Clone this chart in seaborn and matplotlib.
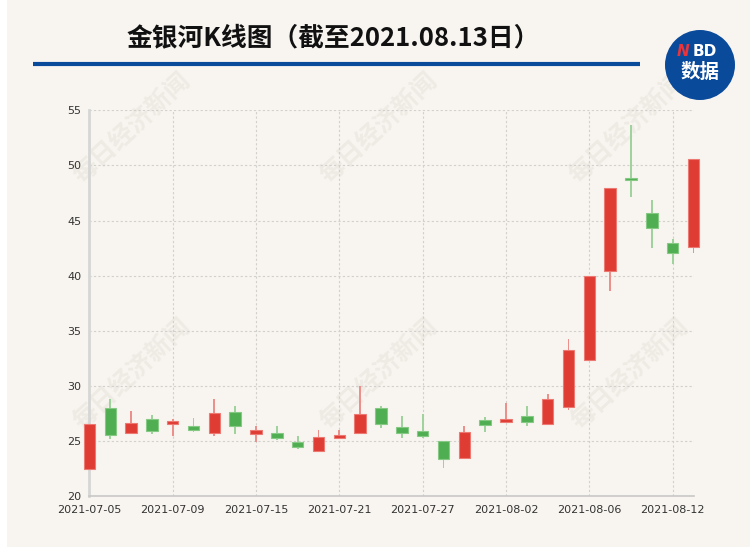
import numpy as np
import pandas as pd
import matplotlib
matplotlib.use("Agg")
import matplotlib.pyplot as plt
from matplotlib.patches import Circle, Rectangle
import seaborn as sns

# ---------------- data ----------------
dates = ["2021-07-05", "2021-07-06", "2021-07-07", "2021-07-08", "2021-07-09",
         "2021-07-12", "2021-07-13", "2021-07-14", "2021-07-15", "2021-07-16",
         "2021-07-19", "2021-07-20", "2021-07-21", "2021-07-22", "2021-07-23",
         "2021-07-26", "2021-07-27", "2021-07-28", "2021-07-29", "2021-07-30",
         "2021-08-02", "2021-08-03", "2021-08-04", "2021-08-05", "2021-08-06",
         "2021-08-09", "2021-08-10", "2021-08-11", "2021-08-12", "2021-08-13"]
open_ = [22.52, 27.97, 25.70, 27.03, 26.52, 26.39, 25.79, 27.61, 25.64, 25.70,
         24.97, 24.15, 25.33, 25.70, 28.04, 26.25, 25.97, 25.00, 23.51, 26.95,
         26.76, 27.31, 26.52, 28.10, 32.33, 40.42, 48.82, 45.70, 43.00, 42.58]
close = [26.55, 25.52, 26.61, 25.94, 26.79, 26.03, 27.55, 26.39, 26.00, 25.27,
         24.45, 25.40, 25.58, 27.43, 26.52, 25.76, 25.43, 23.39, 25.88, 26.46,
         27.00, 26.70, 28.80, 33.30, 39.95, 47.91, 48.64, 44.30, 42.03, 50.55]
high = [26.55, 28.79, 27.73, 27.36, 27.00, 27.06, 28.85, 28.21, 26.42, 26.39,
        25.45, 26.06, 26.06, 30.00, 28.22, 27.28, 27.43, 25.00, 26.40, 27.19,
        28.46, 28.16, 29.32, 34.30, 39.95, 47.91, 53.70, 46.91, 43.33, 50.55]
low = [22.52, 25.21, 25.70, 25.64, 25.48, 25.82, 25.48, 25.61, 24.94, 25.09,
       24.33, 24.15, 25.24, 25.70, 26.16, 25.33, 25.33, 22.60, 23.51, 25.85,
       26.64, 26.37, 26.52, 27.83, 32.33, 38.60, 47.12, 42.55, 41.06, 42.06]
x_tick_labels = ["2021-07-05", "2021-07-09", "2021-07-15", "2021-07-21",
                 "2021-07-27", "2021-08-02", "2021-08-06", "2021-08-12"]
y_ticks = [20, 25, 30, 35, 40, 45, 50, 55]

title = "金银河K线图（截至2021.08.13日）"
watermark = "每日经济新闻"

# ---------------- style ----------------
sns.set_theme(style="white")
plt.rcParams['font.family'] = ['DejaVu Sans', 'Noto Sans CJK SC']

BG = '#f8f5f0'
BLUE = '#0a4a9b'
RED = '#df3c34'
RED_EDGE = '#ec7a73'
RED_WICK = '#ec908b'
GREEN = '#4fae51'
GREEN_EDGE = '#86c985'
GREEN_WICK = '#a0d29e'

df = pd.DataFrame({'date': dates, 'open': open_, 'close': close,
                   'high': high, 'low': low})
df['up'] = df['close'] >= df['open']
df['body_lo'] = df[['open', 'close']].min(axis=1)
df['body_h'] = (df['close'] - df['open']).abs()
df['wick_h'] = df['high'] - df['low']

fig = plt.figure(figsize=(7.5, 5.5), dpi=100, facecolor='white')

# background / decoration layer in pixel coordinates
bg = fig.add_axes([0, 0, 1, 1], zorder=0)
bg.set_xlim(0, 750)
bg.set_ylim(550, 0)
bg.axis('off')
bg.add_patch(Rectangle((7, 0), 743, 547, facecolor=BG, edgecolor='none', zorder=0))
for cx, cy in [(132, 128), (379, 128), (628, 128), (132, 374), (379, 374), (630, 374)]:
    bg.text(cx, cy, watermark, rotation=43, ha='center', va='center',
            fontsize=18, fontweight='bold', color='#eeeae4',
            family=['Noto Sans CJK SC'], zorder=1)
bg.text(333, 38, title, ha='center', va='center', fontsize=18.5,
        fontweight='bold', color='#111111', family=['Noto Sans CJK SC'], zorder=3)
bg.plot([33, 640], [64, 64], color=BLUE, lw=3, solid_capstyle='butt', zorder=3)
bg.add_patch(Circle((700, 65), 35, facecolor=BLUE, edgecolor='none', zorder=4))
bg.text(683, 52, 'N', ha='center', va='center', fontsize=11, fontweight='bold',
        fontstyle='italic', color='#e8343a', family=['DejaVu Sans'], zorder=5)
bg.text(705, 52, 'BD', ha='center', va='center', fontsize=11, fontweight='bold',
        color='white', family=['DejaVu Sans'], zorder=5)
bg.text(700, 72, '数据', ha='center', va='center', fontsize=14, fontweight='bold',
        color='white', family=['Noto Sans CJK SC'], zorder=5)

# main chart
ax = fig.add_axes([0.1192, 0.0975, 0.8055, 0.7020], zorder=1)
ax.set_facecolor('none')

for up_flag, col, edge, wcol in [(True, RED, RED_EDGE, RED_WICK),
                                 (False, GREEN, GREEN_EDGE, GREEN_WICK)]:
    sub = df[df['up'] == up_flag]
    sns.barplot(data=sub, x='date', y='wick_h', order=dates, color=wcol,
                saturation=1, width=0.09, errorbar=None,
                bottom=sub['low'].to_numpy(), linewidth=0, zorder=3,
                clip_on=False, ax=ax)
    sns.barplot(data=sub, x='date', y='body_h', order=dates, color=col,
                saturation=1, width=0.55, errorbar=None,
                bottom=sub['body_lo'].to_numpy(), edgecolor=edge,
                linewidth=0.8, zorder=4, clip_on=False, ax=ax)

ax.set_xlim(0, len(dates) - 1)
ax.set_ylim(20, 55)
ax.set_yticks(y_ticks)
ax.set_xticks([dates.index(d) for d in x_tick_labels])
ax.set_xticklabels(x_tick_labels)
ax.set_xlabel('')
ax.set_ylabel('')
ax.set_axisbelow(True)
ax.grid(True, axis='both', color='#d2d0cc', linestyle=(0, (2, 2)), linewidth=0.8)
ax.tick_params(axis='both', length=0, labelsize=8, colors='#333333', pad=6)
for s in ['top', 'right']:
    ax.spines[s].set_visible(False)
ax.spines['left'].set_color('#d6d6d6')
ax.spines['left'].set_linewidth(2)
ax.spines['bottom'].set_color('#c8c8c8')
ax.spines['bottom'].set_linewidth(1.2)

fig.savefig('out.png', dpi=100, facecolor=fig.get_facecolor())
